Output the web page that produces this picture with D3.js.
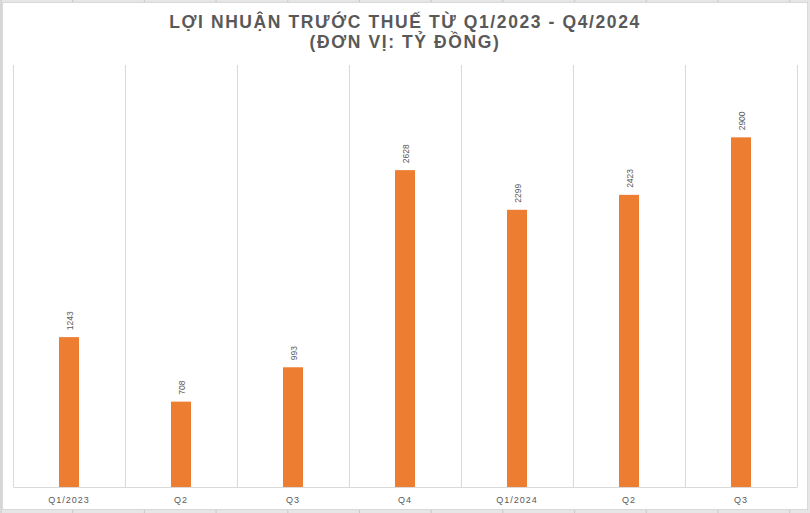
<!DOCTYPE html>
<html lang="vi">
<head>
<meta charset="UTF-8">
<title>Lợi nhuận trước thuế</title>
<script src="https://cdn.jsdelivr.net/npm/d3@7"></script>
<style>
  html, body { margin: 0; padding: 0; background: #fff; }
  #chart { width: 810px; height: 513px; }
  text { font-family: "Liberation Sans", Arial, sans-serif; }
</style>
</head>
<body>
<div id="chart"></div>
<script>
// du lieu
const categories = ["Q1/2023", "Q2", "Q3", "Q4", "Q1/2024", "Q2", "Q3"];
const profit = [1243, 708, 993, 2628, 2299, 2423, 2900];
const titleLines = ["LỢI NHUẬN TRƯỚC THUẾ TỪ Q1/2023 - Q4/2024", "(ĐƠN VỊ: TỶ ĐỒNG)"];

const W = 810, H = 513;
const svg = d3.select("#chart").append("svg")
  .attr("width", W).attr("height", H);

// o bang tinh phia sau
svg.append("rect").attr("width", W).attr("height", H).attr("fill", "#e6e6e6");
const cellX = d3.range(0, 12).map(i => 1 + i * 71.7);
svg.selectAll(".cell").data(cellX).join("line")
  .attr("x1", d => d).attr("x2", d => d).attr("y1", 0).attr("y2", H)
  .attr("stroke", "#c8c8c8").attr("stroke-width", 1);

// khung bieu do
svg.append("rect")
  .attr("x", 2.5).attr("y", 2.5).attr("width", 805).attr("height", 507)
  .attr("fill", "#fff").attr("stroke", "#d9d9d9");

const padding = { top: 65, left: 13, bottom: 26, right: 13 };
const width = W - padding.left - padding.right;
const height = H - padding.top - padding.bottom;

const g = svg.append("g")
  .attr("transform", "translate(" + padding.left + "," + padding.top + ")");

const x = d3.scaleBand().domain(d3.range(categories.length)).range([0, width]);
const y = d3.scaleLinear().domain([0, 3500]).range([height, 0]);

// duong luoi doc
g.selectAll(".grid").data(d3.range(categories.length + 1)).join("line")
  .attr("x1", d => Math.round(d * x.step()) + 0.5)
  .attr("x2", d => Math.round(d * x.step()) + 0.5)
  .attr("y1", 0).attr("y2", height)
  .attr("stroke", "#d9d9d9");

// truc x
const xAxis = d3.axisBottom(x).tickSize(0).tickPadding(10)
  .tickFormat(i => categories[i]);
const ax = g.append("g")
  .attr("transform", "translate(0," + height + ")")
  .call(xAxis);
ax.select(".domain").attr("stroke", "#d9d9d9");
ax.selectAll("text")
  .attr("fill", "#595959").attr("font-size", 9).attr("letter-spacing", 1)
  .attr("font-family", "\"Liberation Sans\", Arial, sans-serif");

// cot
const barW = 20;
g.selectAll(".bar").data(profit).join("rect")
  .attr("x", (d, i) => x(i) + x.bandwidth() / 2 - barW / 2)
  .attr("y", d => y(d))
  .attr("width", barW)
  .attr("height", d => height - y(d))
  .attr("fill", "#ed7d31");

// nhan gia tri
g.selectAll(".lbl").data(profit).join("text")
  .attr("transform", (d, i) =>
    "translate(" + (x(i) + x.bandwidth() / 2 + 4) + "," + (y(d) - 7) + ") rotate(-90)")
  .attr("fill", "#595959").attr("font-size", 8.5)
  .text(d => d);

// tieu de
svg.selectAll(".title").data(titleLines).join("text")
  .attr("x", 405).attr("y", (d, i) => 28 + i * 20)
  .attr("text-anchor", "middle")
  .attr("fill", "#595959").attr("font-size", 17.5).attr("font-weight", "bold")
  .attr("letter-spacing", 1.6)
  .text(d => d);
</script>
</body>
</html>
